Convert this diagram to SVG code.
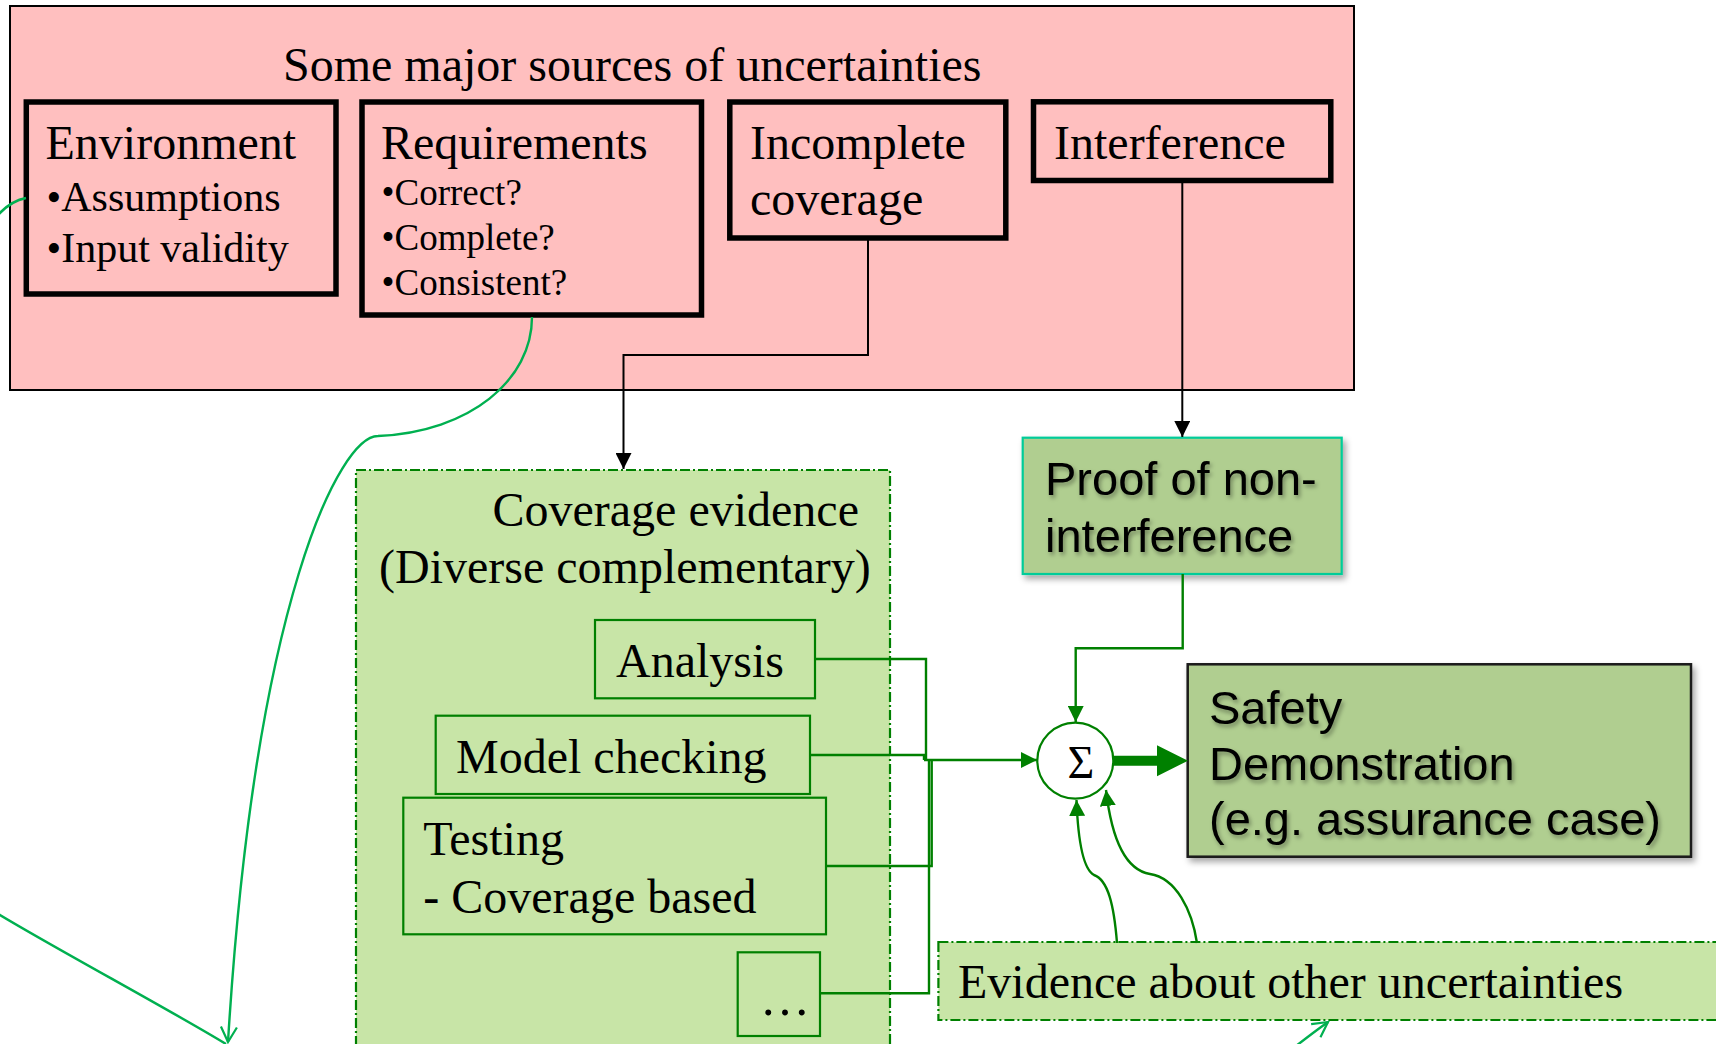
<svg xmlns="http://www.w3.org/2000/svg" width="1716" height="1044" viewBox="0 0 1716 1044">
  <style>
    .serif { font-family: "Liberation Serif", "Times New Roman", serif; fill: #000; }
    .sans { font-family: "Liberation Sans", Arial, sans-serif; fill: #000; }
    .src { fill: #FFBFBF; stroke: #000; stroke-width: 5.5; }
    .ev { fill: #C8E5A7; stroke: #008000; stroke-width: 2.2; }
    .group { fill: #C8E5A7; stroke: #008000; stroke-width: 2.2; stroke-dasharray: 10 3 2 3; }
    .blk { fill: none; stroke: #000; stroke-width: 2; }
    .grn { fill: none; stroke: #008000; stroke-width: 2.4; }
    .lgrn { fill: none; stroke: #00B050; stroke-width: 2.4; }
    .h1 { font-size: 48px; }
    .b42 { font-size: 42px; }
    .b37 { font-size: 37px; }
    .s47 { font-size: 47px; }
  </style>
  <defs>
    <marker id="arrBlack" markerUnits="userSpaceOnUse" markerWidth="16" markerHeight="16" refX="16" refY="8" orient="auto">
      <path d="M0,0 L16,8 L0,16 z" fill="#000"/>
    </marker>
    <marker id="arrGreen" markerUnits="userSpaceOnUse" markerWidth="16" markerHeight="16" refX="16" refY="8" orient="auto">
      <path d="M0,0 L16,8 L0,16 z" fill="#008000"/>
    </marker>
    <marker id="arrOpen" markerUnits="userSpaceOnUse" markerWidth="20" markerHeight="20" refX="17" refY="10" orient="auto">
      <path d="M2,2 L17,10 L2,18" fill="none" stroke="#00B050" stroke-width="2.2"/>
    </marker>
    <filter id="boxShadow" x="-10%" y="-10%" width="125%" height="130%">
      <feDropShadow dx="3" dy="4" stdDeviation="3" flood-color="#000" flood-opacity="0.35"/>
    </filter>
    <filter id="textShadow" x="-5%" y="-20%" width="115%" height="150%">
      <feDropShadow dx="2" dy="3" stdDeviation="2" flood-color="#000" flood-opacity="0.35"/>
    </filter>
  </defs>

  <rect width="1716" height="1044" fill="#fff"/>

  <!-- Sources of uncertainty -->
  <g id="uncertainties">
    <rect x="10" y="6" width="1344" height="384" fill="#FFBFBF" stroke="#000" stroke-width="2"/>
    <text class="serif h1" x="283" y="81">Some major sources of uncertainties</text>
  </g>

  <g id="environment">
    <rect class="src" x="26.3" y="102" width="309.7" height="192"/>
    <text class="serif h1" x="45.5" y="158.5">Environment</text>
    <text class="serif b42" x="46.5" y="210.7">•Assumptions</text>
    <text class="serif b42" x="46.5" y="261.7">•Input validity</text>
  </g>

  <g id="requirements">
    <rect class="src" x="362" y="102" width="339.5" height="213"/>
    <text class="serif h1" x="381" y="159">Requirements</text>
    <text class="serif b37" x="381.5" y="205">•Correct?</text>
    <text class="serif b37" x="381.5" y="250">•Complete?</text>
    <text class="serif b37" x="381.5" y="295">•Consistent?</text>
  </g>

  <g id="incomplete-coverage">
    <rect class="src" x="729.8" y="102" width="276" height="136"/>
    <text class="serif h1" x="750" y="158.5">Incomplete</text>
    <text class="serif h1" x="750" y="215">coverage</text>
  </g>

  <g id="interference">
    <rect class="src" x="1033.5" y="101.8" width="297.3" height="78.7"/>
    <text class="serif h1" x="1054" y="159">Interference</text>
  </g>

  <!-- Evidence groups -->
  <g id="coverage-evidence">
    <rect class="group" x="356" y="470" width="534" height="600"/>
    <text class="serif h1" x="492.5" y="526">Coverage evidence</text>
    <text class="serif h1" x="379" y="583">(Diverse complementary)</text>
  </g>

  <g id="analysis">
    <rect class="ev" x="595" y="620" width="220" height="78.3"/>
    <text class="serif h1" x="616" y="676.5">Analysis</text>
  </g>

  <g id="model-checking">
    <rect class="ev" x="435.7" y="715.7" width="374.3" height="78.3"/>
    <text class="serif h1" x="456" y="773">Model checking</text>
  </g>

  <g id="testing">
    <rect class="ev" x="403.3" y="797.7" width="422.7" height="136.6"/>
    <text class="serif h1" x="423.3" y="855">Testing</text>
    <text class="serif h1" x="423.3" y="913">- Coverage based</text>
  </g>

  <g id="more-evidence">
    <rect class="ev" x="737.7" y="952.3" width="82.3" height="83.7"/>
    <text class="serif" x="760" y="1015" font-size="50">…</text>
  </g>

  <g id="other-evidence">
    <rect class="group" x="938.4" y="942" width="800" height="78"/>
    <text class="serif h1" x="958" y="998">Evidence about other uncertainties</text>
  </g>

  <g id="non-interference-proof">
    <rect x="1022.7" y="437.7" width="319" height="136.3" fill="#B0CE90" stroke="#00CC99" stroke-width="2.2" filter="url(#boxShadow)"/>
    <g filter="url(#textShadow)">
      <text class="sans s47" x="1045" y="495">Proof of non-</text>
      <text class="sans s47" x="1045" y="551.5">interference</text>
    </g>
  </g>

  <g id="sum">
    <circle cx="1075.3" cy="760.7" r="38" fill="#fff" stroke="#008000" stroke-width="2.2"/>
    <text class="serif" x="1081" y="777.5" font-size="46" text-anchor="middle">Σ</text>
  </g>

  <g id="safety-demonstration">
    <rect x="1187.7" y="664.3" width="503.3" height="192.4" fill="#B0CE90" stroke="#1a1a1a" stroke-width="2.5" filter="url(#boxShadow)"/>
    <g filter="url(#textShadow)">
      <text class="sans s47" x="1209" y="724">Safety</text>
      <text class="sans s47" x="1209" y="779.5">Demonstration</text>
      <text class="sans s47" x="1209" y="835">(e.g. assurance case)</text>
    </g>
  </g>

  <!-- Connectors -->
  <g id="connectors">
    <path class="blk" d="M868,240 V355 H623.5 V469" marker-end="url(#arrBlack)"/>
    <path class="blk" d="M1182.3,183 V437" marker-end="url(#arrBlack)"/>

    <path class="grn" d="M1182.7,574 V648.3 H1075.7 V722" marker-end="url(#arrGreen)"/>
    <path class="grn" d="M815,659 H926 V760"/>
    <path class="grn" d="M810,755 H924 V760"/>
    <path class="grn" d="M826,866 H931.7 V760"/>
    <path class="grn" d="M820,993.3 H929 V760"/>
    <path class="grn" d="M924,760 H1037" marker-end="url(#arrGreen)"/>

    <path class="grn" d="M1117,943 C1114,905 1108,880 1094,875 C1083,869 1078,840 1076.5,800" marker-end="url(#arrGreen)"/>
    <path class="grn" d="M1197,943 C1192,910 1176,878 1150,874 C1126,870 1112,842 1106,790" marker-end="url(#arrGreen)"/>

    <path d="M1113,755.7 H1157 V745.2 L1188,760.7 L1157,776.2 V765.7 H1113 z" fill="#008000"/>

    <path class="lgrn" d="M532,317 C532,380 470,432 378,436 C340,436 255,600 228,1042" marker-end="url(#arrOpen)"/>
    <path class="lgrn" d="M26,198 C-100,222 -100,855 0,915 C60,951 170,1010 226,1044"/>
    <path class="lgrn" d="M1296,1046 Q1314,1032 1328,1022" marker-end="url(#arrOpen)"/>
  </g>
</svg>
